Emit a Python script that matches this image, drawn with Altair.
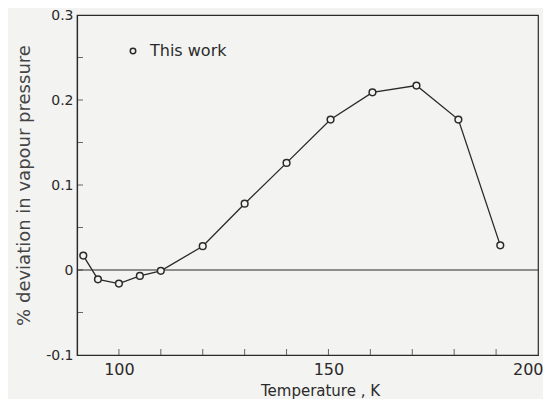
import altair as alt
import pandas as pd

temperature = [91.5, 95, 100, 105, 110, 120, 130, 140, 150.5, 160.5, 171, 181, 191]
deviation = [0.017, -0.011, -0.016, -0.007, -0.001, 0.028, 0.078, 0.126, 0.177, 0.209, 0.217, 0.177, 0.029]
series = ["This work"] * len(temperature)

x_tick_values = [100, 110, 120, 130, 140, 150, 160, 170, 180, 190]
y_tick_values = [-0.05, 0.0, 0.05, 0.1, 0.15, 0.2, 0.25]
x_label_values = [100, 150, 200]
y_label_values = [-0.1, 0.0, 0.1, 0.2, 0.3]

df = pd.DataFrame({"T": temperature, "dev": deviation, "series": series})
xt = pd.DataFrame({"T": x_tick_values, "dev": [-0.1] * len(x_tick_values)})
yt = pd.DataFrame({"T": [90] * len(y_tick_values), "dev": y_tick_values})

INK = "#2a2a2a"
BG = "#f3f3f1"
FONT = "DejaVu Sans"

xscale = alt.Scale(domain=[90, 200], nice=False, zero=False)
yscale = alt.Scale(domain=[-0.1, 0.3], nice=False, zero=False)

xaxis = alt.Axis(
    values=x_label_values, ticks=False, grid=False, domainColor=INK, domainWidth=1.2,
    labelFontSize=16, labelColor=INK, labelFont=FONT, labelPadding=6,
    labelFlush=True, labelFlushOffset=5,
    title="Temperature , K", titleFontSize=15, titleFont=FONT, titleFontWeight="normal",
    titleColor=INK, titlePadding=6, titleX=243, titleAnchor="middle", titleAlign="center",
)
yaxis = alt.Axis(
    values=y_label_values, ticks=False, grid=False, domainColor=INK, domainWidth=1.2,
    labelFontSize=14, labelColor=INK, labelFont=FONT, labelPadding=4,
    labelExpr="datum.value == 0 ? '0' : (datum.value < 0 ? '-' + format(-datum.value, '.1f') : format(datum.value, '.1f'))",
    title="% deviation in vapour pressure", titleFontSize=18, titleFont=FONT,
    titleFontWeight="normal", titleColor="#444444", titlePadding=12,
)

x_enc = alt.X("T:Q", scale=xscale, axis=xaxis)
y_enc = alt.Y("dev:Q", scale=yscale, axis=yaxis)

zero = alt.Chart(pd.DataFrame({"dev": [0.0]})).mark_rule(color=INK, strokeWidth=1.1).encode(
    y=alt.Y("dev:Q", scale=yscale)
)

xticks = alt.Chart(xt).mark_tick(orient="vertical", size=12, thickness=1, color=INK, clip=True).encode(
    x=alt.X("T:Q", scale=xscale), y=alt.Y("dev:Q", scale=yscale)
)
yticks = alt.Chart(yt).mark_tick(orient="horizontal", size=12, thickness=1, color=INK, clip=True).encode(
    x=alt.X("T:Q", scale=xscale), y=alt.Y("dev:Q", scale=yscale)
)

line = alt.Chart(df).mark_line(color=INK, strokeWidth=1.3).encode(x=x_enc, y=y_enc)

points = alt.Chart(df).mark_point(
    shape="circle", filled=False, fill=BG, fillOpacity=1, strokeWidth=1.5, size=45, opacity=1
).encode(
    x=alt.X("T:Q", scale=xscale),
    y=alt.Y("dev:Q", scale=yscale),
    stroke=alt.Stroke(
        "series:N",
        scale=alt.Scale(range=[INK]),
        legend=alt.Legend(
            title=None, orient="none", legendX=48, legendY=28,
            symbolType="circle", symbolFillColor=BG, symbolStrokeWidth=1.5,
            symbolSize=30, labelFontSize=16, labelFont=FONT,
            labelColor=INK, labelOffset=9,
        ),
    ),
)

chart = alt.layer(zero, xticks, yticks, line, points).properties(
    width=461, height=340,
    autosize=alt.AutoSizeParams(type="none"),
    padding={"left": 69, "top": 7, "right": 5, "bottom": 44},
    background=BG,
).configure_view(stroke=INK, strokeWidth=1.2)

chart.save("out.html", embed_options={"renderer": "svg", "actions": False})
